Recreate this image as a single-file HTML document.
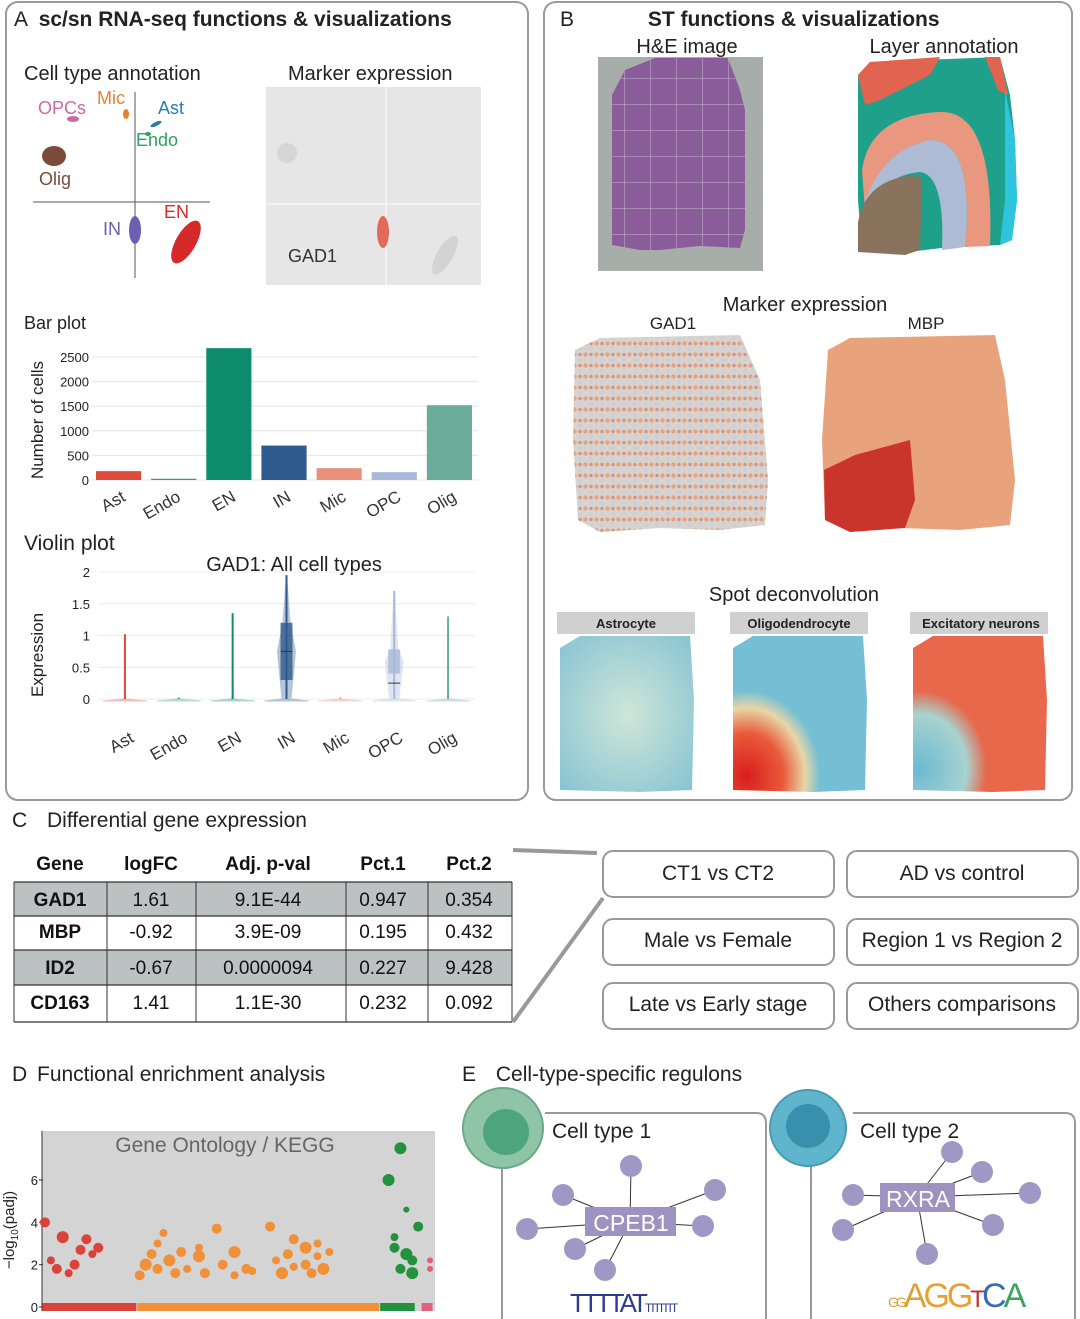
<!DOCTYPE html>
<html><head><meta charset="utf-8"><style>
body{margin:0;background:#fff;}
svg{display:block;font-family:"Liberation Sans",sans-serif;}
</style></head><body>
<svg id="fig" width="1080" height="1319" viewBox="0 0 1080 1319">
<defs>
<pattern id="gadPat" width="11" height="11" patternUnits="userSpaceOnUse"><rect width="11" height="11" fill="#d6d3d0"/><circle cx="2.5" cy="2.5" r="2.2" fill="#e8a27e"/><circle cx="8" cy="8" r="2.2" fill="#d0d0d0"/><circle cx="8" cy="2.5" r="1.8" fill="#cc5a3e" opacity="0.5"/></pattern>
<pattern id="hePat" width="26" height="26" patternUnits="userSpaceOnUse"><rect width="26" height="26" fill="#8a5d9a"/><path d="M0 0H26M0 0V26" stroke="#c9b8d1" stroke-width="1"/></pattern>
<radialGradient id="astG" cx="0.5" cy="0.5" r="0.7"><stop offset="0" stop-color="#cfe6d8"/><stop offset="1" stop-color="#86c3d3"/></radialGradient>
<radialGradient id="oliG" cx="0.1" cy="0.9" r="0.55"><stop offset="0" stop-color="#d81d1d"/><stop offset="0.5" stop-color="#e95a3a"/><stop offset="0.8" stop-color="#e8d6a6"/><stop offset="1" stop-color="#74bfd4"/></radialGradient>
<radialGradient id="exG" cx="0.05" cy="0.85" r="0.5"><stop offset="0" stop-color="#6cbad3"/><stop offset="0.7" stop-color="#a8d2cf"/><stop offset="1" stop-color="#e7684b"/></radialGradient>
</defs>

<rect x="6" y="2" width="522" height="798" rx="12" fill="none" stroke="#9a9a9a" stroke-width="2"/>
<rect x="544" y="2" width="528" height="798" rx="12" fill="none" stroke="#9a9a9a" stroke-width="2"/>
<text x="14" y="26" font-size="21" fill="#222">A <tspan font-weight="bold" dx="6">sc/sn RNA-seq functions &amp; visualizations</tspan></text>
<text x="560" y="26" font-size="21" fill="#222">B <tspan font-weight="bold" dx="68">ST functions &amp; visualizations</tspan></text>

<g>
<text x="24" y="80" font-size="20" fill="#222">Cell type annotation</text>
<line x1="135" y1="92" x2="135" y2="278" stroke="#555"/>
<line x1="33" y1="202" x2="210" y2="202" stroke="#555"/>
<ellipse cx="54" cy="156" rx="12" ry="10" fill="#7a4a3a"/>
<ellipse cx="73" cy="119" rx="6" ry="3" fill="#c96aa8"/>
<ellipse cx="126" cy="114" rx="3" ry="5" fill="#e88030"/>
<ellipse cx="156" cy="124" rx="6" ry="2" fill="#2b7bb5" transform="rotate(-25 156 124)"/>
<ellipse cx="148" cy="134" rx="3" ry="2" fill="#2ca25f"/>
<ellipse cx="135" cy="230" rx="6" ry="14" fill="#6a5fb0"/>
<ellipse cx="186" cy="242" rx="10" ry="24" fill="#d62a2a" transform="rotate(30 186 242)"/>
<text x="38" y="114" font-size="18" fill="#c96aa8">OPCs</text>
<text x="97" y="104" font-size="18" fill="#e88030">Mic</text>
<text x="158" y="114" font-size="18" fill="#2b7bb5">Ast</text>
<text x="136" y="146" font-size="18" fill="#2ca25f">Endo</text>
<text x="39" y="185" font-size="18" fill="#7a4a3a">Olig</text>
<text x="103" y="235" font-size="18" fill="#6a5fb0">IN</text>
<text x="164" y="218" font-size="18" fill="#d62a2a">EN</text>
</g>
<g>
<text x="288" y="80" font-size="20" fill="#222">Marker expression</text>
<rect x="266" y="87" width="215" height="198" fill="#e6e6e6"/>
<line x1="386" y1="87" x2="386" y2="285" stroke="#fff"/>
<line x1="266" y1="204" x2="481" y2="204" stroke="#fff"/>
<ellipse cx="287" cy="153" rx="10" ry="10" fill="#d6d6d6"/>
<ellipse cx="383" cy="232" rx="6" ry="16" fill="#e26a5a"/>
<ellipse cx="445" cy="255" rx="8" ry="22" fill="#d3d3d3" transform="rotate(30 445 255)"/>
<text x="288" y="262" font-size="18" fill="#333">GAD1</text>
</g>

<text x="24" y="329" font-size="18" fill="#222">Bar plot</text>
<text transform="translate(43 420) rotate(-90)" text-anchor="middle" font-size="17" fill="#222">Number of cells</text>
<g id="barChart"></g>

<text x="24" y="550" font-size="21" fill="#222">Violin plot</text>
<text x="294" y="571" text-anchor="middle" font-size="20" fill="#222">GAD1: All cell types</text>
<text transform="translate(43 655) rotate(-90)" text-anchor="middle" font-size="17" fill="#222">Expression</text>
<g id="violinChart"></g>

<text x="687" y="53" text-anchor="middle" font-size="20" fill="#222">H&amp;E image</text>
<rect x="598" y="57" width="165" height="214" fill="#a7aeaa"/>
<path d="M612 95 L625 70 L655 58 L728 58 L740 90 L745 110 L745 230 L740 248 L700 246 L660 250 L640 250 L612 245 Z" fill="url(#hePat)"/>
<text x="944" y="53" text-anchor="middle" font-size="20" fill="#222">Layer annotation</text>
<g>
<path d="M858 75 L870 62 L1000 57 L1010 95 L1015 140 L1017 200 L1012 240 L1000 245 L950 247 L900 253 L862 252 L858 200 Z" fill="#1fa08b"/>
<path d="M858 75 L870 62 L940 57 L930 75 L880 100 L865 105 Z" fill="#e26450"/>
<path d="M985 57 L1000 57 L1008 95 L998 90 Z" fill="#e26450"/>
<path d="M1005 90 L1015 140 L1017 200 L1012 240 L1000 245 L1005 200 Z" fill="#2ec4de"/>
<path d="M862 170 Q870 115 940 112 Q995 110 990 246 L965 247 Q975 140 930 140 Q880 150 865 210 Z" fill="#e9987f"/>
<path d="M862 210 Q880 150 930 140 Q975 140 965 247 L942 250 Q945 175 920 172 Q880 175 862 222 Z" fill="#aebbd4"/>
<path d="M858 222 Q865 182 908 176 L922 177 L920 250 L905 255 L858 252 Z" fill="#8a735c"/>
</g>

<text x="805" y="311" text-anchor="middle" font-size="20" fill="#222">Marker expression</text>
<text x="673" y="329" text-anchor="middle" font-size="17" fill="#222">GAD1</text>
<text x="926" y="329" text-anchor="middle" font-size="17" fill="#222">MBP</text>
<path d="M575 350 L600 338 L740 335 L760 380 L768 480 L765 525 L720 530 L660 528 L600 532 L578 520 L573 440 Z" fill="url(#gadPat)"/>
<g>
<path d="M828 350 L850 338 L995 335 L1005 380 L1015 480 L1010 525 L960 530 L900 528 L850 532 L825 520 L822 440 Z" fill="#e8a27c"/>
<path d="M824 470 L855 455 L910 440 L915 500 L905 528 L850 532 L825 520 Z" fill="#c9342c"/>
</g>

<text x="794" y="601" text-anchor="middle" font-size="20" fill="#222">Spot deconvolution</text>
<g>
<rect x="557" y="612" width="138" height="22" fill="#d0d0d0"/><text x="626" y="628" text-anchor="middle" font-size="13" font-weight="bold" fill="#222">Astrocyte</text>
<path d="M560 648 L580 636 L690 636 L694 700 L692 790 L640 792 L560 790 Z" fill="url(#astG)"/>
</g>
<g>
<rect x="730" y="612" width="138" height="22" fill="#d0d0d0"/><text x="799" y="628" text-anchor="middle" font-size="13" font-weight="bold" fill="#222">Oligodendrocyte</text>
<path d="M733 648 L753 636 L863 636 L867 700 L865 790 L813 792 L733 790 Z" fill="url(#oliG)"/>
</g>
<g>
<rect x="910" y="612" width="138" height="22" fill="#d0d0d0"/><text x="981" y="628" text-anchor="middle" font-size="13" font-weight="bold" fill="#222">Excitatory neurons</text>
<path d="M913 648 L933 636 L1043 636 L1047 700 L1045 790 L993 792 L913 790 Z" fill="url(#exG)"/>
</g>

<text x="12" y="827" font-size="21" fill="#222">C <tspan dx="14">Differential gene expression</tspan></text>
<g font-size="19" text-anchor="middle" fill="#111">
<rect x="14" y="882" width="498" height="34" fill="#bcc2c2"/>
<rect x="14" y="950" width="498" height="35" fill="#bcc2c2"/>
<path d="M14 882 H512 M14 916 H512 M14 950 H512 M14 985 H512 M14 1022 H512" stroke="#333" stroke-width="1.3"/>
<path d="M14 882 V1022 M107 882 V1022 M196 882 V1022 M346 882 V1022 M428 882 V1022 M512 882 V1022" stroke="#333" stroke-width="1"/>
<g font-weight="bold"><text x="60" y="870">Gene</text><text x="151" y="870">logFC</text><text x="268" y="870">Adj. p-val</text><text x="383" y="870">Pct.1</text><text x="469" y="870">Pct.2</text></g>
<text x="60" y="906" font-weight="bold">GAD1</text><text x="151" y="906">1.61</text><text x="268" y="906">9.1E-44</text><text x="383" y="906">0.947</text><text x="469" y="906">0.354</text>
<text x="60" y="938" font-weight="bold">MBP</text><text x="151" y="938">-0.92</text><text x="268" y="938">3.9E-09</text><text x="383" y="938">0.195</text><text x="469" y="938">0.432</text>
<text x="60" y="974" font-weight="bold">ID2</text><text x="151" y="974">-0.67</text><text x="268" y="974">0.0000094</text><text x="383" y="974">0.227</text><text x="469" y="974">9.428</text>
<text x="60" y="1009" font-weight="bold">CD163</text><text x="151" y="1009">1.41</text><text x="268" y="1009">1.1E-30</text><text x="383" y="1009">0.232</text><text x="469" y="1009">0.092</text>
</g>
<path d="M513 850 L597 853 M513 1022 L603 898" stroke="#999" stroke-width="4"/>
<g font-size="21" text-anchor="middle" fill="#222">
<rect x="603" y="851" width="231" height="46" rx="10" fill="#fff" stroke="#999" stroke-width="2"/><text x="718" y="880">CT1 vs CT2</text>
<rect x="847" y="851" width="231" height="46" rx="10" fill="#fff" stroke="#999" stroke-width="2"/><text x="962" y="880">AD vs control</text>
<rect x="603" y="919" width="231" height="46" rx="10" fill="#fff" stroke="#999" stroke-width="2"/><text x="718" y="947">Male vs Female</text>
<rect x="847" y="919" width="231" height="46" rx="10" fill="#fff" stroke="#999" stroke-width="2"/><text x="962" y="947">Region 1 vs Region 2</text>
<rect x="603" y="983" width="231" height="46" rx="10" fill="#fff" stroke="#999" stroke-width="2"/><text x="718" y="1011">Late vs Early stage</text>
<rect x="847" y="983" width="231" height="46" rx="10" fill="#fff" stroke="#999" stroke-width="2"/><text x="962" y="1011">Others comparisons</text>
</g>

<text x="12" y="1081" font-size="21" fill="#222">D <tspan dx="4">Functional enrichment analysis</tspan></text>
<rect x="42" y="1131" width="393" height="180" fill="#d4d4d4"/>
<text x="225" y="1152" text-anchor="middle" font-size="21" fill="#666">Gene Ontology / KEGG</text>
<text transform="translate(14 1230) rotate(-90)" text-anchor="middle" font-size="15" fill="#222">−log<tspan font-size="10" dy="4">10</tspan><tspan dy="-4">(padj)</tspan></text>
<g id="enrichChart"></g>

<text x="462" y="1081" font-size="21" fill="#222">E <tspan dx="14">Cell-type-specific regulons</tspan></text>
<g>
<path d="M545 1113 H756 Q766 1113 766 1123 V1319 M502 1160 V1319" fill="none" stroke="#999" stroke-width="2"/>
<circle cx="503" cy="1128" r="40" fill="#8fc4a6" stroke="#6aa88a" stroke-width="2"/>
<circle cx="506" cy="1132" r="23" fill="#4ca57d"/>
<text x="552" y="1138" font-size="21" fill="#222">Cell type 1</text>
<g stroke="#333" stroke-width="1"><line x1="630" y1="1222" x2="631" y2="1166"/><line x1="630" y1="1222" x2="563" y2="1195"/><line x1="630" y1="1222" x2="715" y2="1190"/><line x1="630" y1="1222" x2="527" y2="1229"/><line x1="630" y1="1222" x2="703" y2="1226"/><line x1="630" y1="1222" x2="575" y2="1249"/><line x1="630" y1="1222" x2="605" y2="1270"/></g>
<g fill="#9f97c4"><circle cx="631" cy="1166" r="11"/><circle cx="563" cy="1195" r="11"/><circle cx="715" cy="1190" r="11"/><circle cx="527" cy="1229" r="11"/><circle cx="703" cy="1226" r="11"/><circle cx="575" cy="1249" r="11"/><circle cx="605" cy="1270" r="11"/></g>
<rect x="585" y="1207" width="91" height="29" fill="#9e93c0"/><text x="631" y="1231" text-anchor="middle" font-size="23" fill="#fff">CPEB1</text>
<text x="570" y="1312" font-size="26" fill="#2f3b8f" letter-spacing="-3">TTTTAT<tspan font-size="12">TTTTTTT</tspan></text>
</g>
<g>
<path d="M853 1113 H1065 Q1075 1113 1075 1123 V1319 M811 1160 V1319" fill="none" stroke="#999" stroke-width="2"/>
<circle cx="808" cy="1128" r="38" fill="#5fb5cc" stroke="#4a9bb2" stroke-width="2"/>
<circle cx="808" cy="1126" r="22" fill="#3791ad"/>
<text x="860" y="1138" font-size="21" fill="#222">Cell type 2</text>
<g stroke="#333" stroke-width="1"><line x1="917" y1="1197" x2="952" y2="1152"/><line x1="917" y1="1197" x2="982" y2="1172"/><line x1="917" y1="1197" x2="853" y2="1195"/><line x1="917" y1="1197" x2="1030" y2="1193"/><line x1="917" y1="1197" x2="843" y2="1230"/><line x1="917" y1="1197" x2="993" y2="1225"/><line x1="917" y1="1197" x2="927" y2="1254"/></g>
<g fill="#9f97c4"><circle cx="952" cy="1152" r="11"/><circle cx="982" cy="1172" r="11"/><circle cx="853" cy="1195" r="11"/><circle cx="1030" cy="1193" r="11"/><circle cx="843" cy="1230" r="11"/><circle cx="993" cy="1225" r="11"/><circle cx="927" cy="1254" r="11"/></g>
<rect x="880" y="1183" width="75" height="29" fill="#9e93c0"/><text x="918" y="1207" text-anchor="middle" font-size="23" fill="#fff">RXRA</text>
<text x="888" y="1307" font-size="34" letter-spacing="-3"><tspan fill="#d9a33a" font-size="14">GG</tspan><tspan fill="#d9a33a">A</tspan><tspan fill="#e8a030">G</tspan><tspan fill="#e8a030">G</tspan><tspan fill="#c03030" font-size="24">T</tspan><tspan fill="#3a6ab5">C</tspan><tspan fill="#3aa55a">A</tspan></text>
</g>
</svg>
<script>
const NS='http://www.w3.org/2000/svg';
function mk(parent,tag,attrs){const e=document.createElementNS(NS,tag);for(const k in attrs)e.setAttribute(k,attrs[k]);parent.appendChild(e);return e;}

const barCategories=['Ast','Endo','EN','IN','Mic','OPC','Olig'];
const barValues=[180,25,2680,700,240,160,1520];
const barColors=['#e04a3a','#2a9d8f','#0e8c6e','#2f5a8f','#e8907a','#a9b8d8','#6aab9a'];
const barTicks=[0,500,1000,1500,2000,2500];

const violinCategories=['Ast','Endo','EN','IN','Mic','OPC','Olig'];
const violinMax=[1.02,0.02,1.35,1.95,0.02,1.7,1.3];
const violinQ1=[0,0,0,0.3,0,0.4,0];
const violinQ3=[0,0,0.02,1.2,0,0.78,0.01];
const violinMedian=[0,0,0,0.75,0,0.25,0];
const violinColors=['#e04a3a','#2a9d8f','#0e8c6e','#2f5a8f','#e8907a','#a9b8d8','#6aab9a'];
const violinTicks=[0,0.5,1,1.5,2];

const enrichGroupStart=[0,16,57,64];
const enrichGroupEnd=[16,57,63,66];
const enrichGroupColors=['#d9433a','#f0913a','#22923f','#e0607e'];
const enrichIndex=[0,1,2,3,4,5,6,7,8,9, 16,17,18,19,19,20,21,22,23,24,26,26,27,29,30,32,32,34,35,38,39,40,41,42,42,44,44,45,46,46,47,48, 58,59,59,60,60,61,61,62,62,63, 65,65];
const enrichValues=[4.0,2.2,1.8,3.3,1.6,2.0,2.7,3.2,2.5,2.8, 1.5,2.0,2.5,3.0,1.8,3.5,2.2,1.6,2.6,1.8,2.8,2.4,1.6,3.7,2.0,1.5,2.6,1.8,1.7,3.8,2.2,1.6,2.5,3.2,1.9,2.8,2.0,1.6,3.0,2.4,1.8,2.6, 6.0,2.8,3.3,7.5,1.8,2.5,4.6,2.2,1.6,3.8, 2.2,1.8];
const enrichSizes=[5,4,5,6,4,5,5,5,4,5, 5,6,5,4,5,4,6,5,5,4,4,6,5,5,5,4,6,5,4,5,4,6,5,5,4,6,5,5,4,4,6,4, 6,5,4,6,5,6,3,5,6,5, 3,3];
const enrichTicks=[0,2,4,6];

(function(){
  const g=document.getElementById('barChart');
  const x0=92,x1=478,y0=480,yTop=357,vTop=2500;
  const ys=v=>y0-(v/vTop)*(y0-yTop);
  const band=(x1-x0)/barCategories.length;
  barTicks.forEach(t=>{
    const l=mk(g,'line',{x1:x0,x2:x1,y1:ys(t),y2:ys(t),stroke:'#e4e4e4'});
    
    
    const tx=mk(g,'text',{x:89,y:ys(t)+5,'text-anchor':'end','font-size':13,fill:'#222'});tx.textContent=t;
    
    
  });
  barCategories.forEach((c,i)=>{
    const bx=x0+i*band+4,w=band-10;
    const r=mk(g,'rect',{x:bx,y:ys(barValues[i]),width:w,height:y0-ys(barValues[i]),fill:barColors[i]});
    
    
    const cx=bx+w/2;
    const t=mk(g,'text',{x:cx+8,y:y0+20,'text-anchor':'end','font-size':17,fill:'#333',transform:`rotate(-30 ${cx+8} ${y0+20})`});t.textContent=c;
    
    
  });
})();

(function(){
  const g=document.getElementById('violinChart');
  const x0=98,x1=475,y0=699,yTop=572,vTop=2;
  const ys=v=>y0-(v/vTop)*(y0-yTop);
  const band=(x1-x0)/violinCategories.length;
  violinTicks.forEach(t=>{
    const l=mk(g,'line',{x1:x0,x2:x1,y1:ys(t),y2:ys(t),stroke:'#ececec'});
    
    
    const tx=mk(g,'text',{x:90,y:ys(t)+5,'text-anchor':'end','font-size':13,fill:'#222'});tx.textContent=t;
    
    
  });
  violinCategories.forEach((c,i)=>{
    const cx=x0+band*(i+0.5);
    const col=violinColors[i];
    const vg=mk(g,'g',{});
    
    
    const hw=(violinQ3[i]-violinQ1[i])>0.2?9:1.2;
    mk(vg,'path',{d:`M${cx} ${ys(violinMax[i])} L${cx+hw*0.4} ${ys(violinQ3[i])} L${cx+hw} ${ys((violinQ1[i]+violinQ3[i])/2)} L${cx+hw*0.5} ${y0} L${cx+22} ${y0+2} L${cx-22} ${y0+2} L${cx-hw*0.5} ${y0} L${cx-hw} ${ys((violinQ1[i]+violinQ3[i])/2)} L${cx-hw*0.4} ${ys(violinQ3[i])} Z`,fill:col,opacity:0.35,stroke:col,'stroke-width':1});
    mk(vg,'line',{x1:cx,x2:cx,y1:ys(violinMax[i]),y2:y0,stroke:col,'stroke-width':2});
    if(violinQ3[i]-violinQ1[i]>0.05){
      mk(vg,'rect',{x:cx-6,y:ys(violinQ3[i]),width:12,height:ys(violinQ1[i])-ys(violinQ3[i]),fill:col,opacity:0.8});
      mk(vg,'line',{x1:cx-6,x2:cx+6,y1:ys(violinMedian[i]),y2:ys(violinMedian[i]),stroke:'#333'});
    }
    const t=mk(g,'text',{x:cx+10,y:y0+42,'text-anchor':'end','font-size':17,fill:'#333',transform:`rotate(-30 ${cx+10} ${y0+42})`});t.textContent=c;
    
    
  });
})();

(function(){
  const g=document.getElementById('enrichChart');
  const x0=42,x1=433,y0=1307,vTop=6,yTop=1180;
  const n=66;
  const xs=i=>x0+(i+0.5)*(x1-x0)/n;
  const ys=v=>y0-(v/vTop)*(y0-yTop);
  enrichTicks.forEach(t=>{
    const tx=mk(g,'text',{x:38,y:ys(t)+5,'text-anchor':'end','font-size':13,fill:'#222'});tx.textContent=t;
    
    
    mk(g,'line',{x1:39,x2:43,y1:ys(t),y2:ys(t),stroke:'#333'});
  });
  mk(g,'line',{x1:42,x2:42,y1:1131,y2:1311,stroke:'#333'});
  enrichGroupStart.forEach((s,k)=>{
    const r=mk(g,'rect',{x:xs(s)-2.5,y:1303,width:xs(enrichGroupEnd[k]-1)-xs(s)+5,height:8,fill:enrichGroupColors[k]});
    
    
  });
  enrichIndex.forEach((idx,j)=>{
    let k=0;enrichGroupStart.forEach((s,q)=>{if(idx>=s)k=q;});
    const c=mk(g,'circle',{cx:xs(idx),cy:ys(enrichValues[j]),r:enrichSizes[j],fill:enrichGroupColors[k]});
    
    
  });
})();
</script>
</body></html>
